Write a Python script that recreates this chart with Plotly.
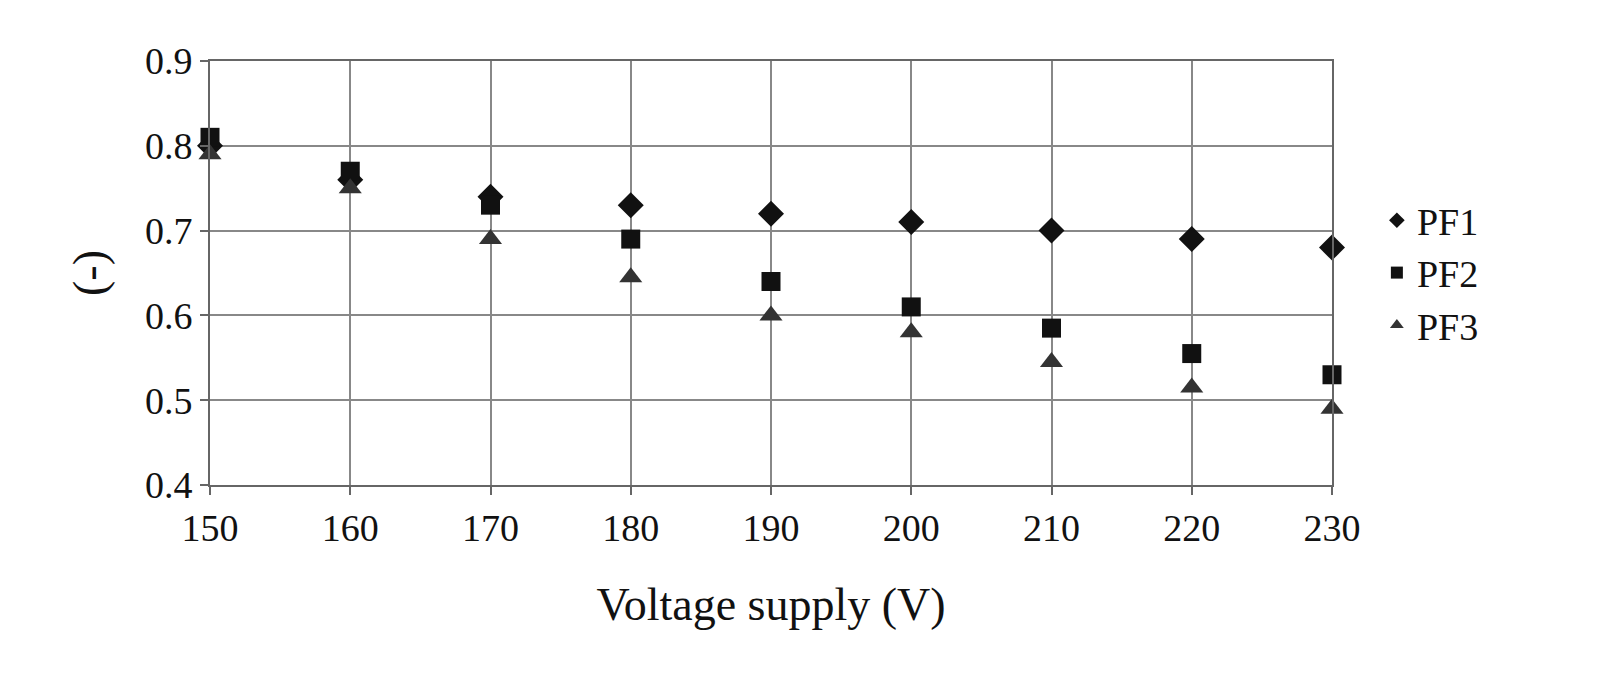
import plotly.graph_objects as go

voltage = [150, 160, 170, 180, 190, 200, 210, 220, 230]
pf1 = [0.80, 0.76, 0.74, 0.73, 0.72, 0.71, 0.70, 0.69, 0.68]
pf2 = [0.81, 0.77, 0.73, 0.69, 0.64, 0.61, 0.585, 0.555, 0.53]
pf3 = [0.79, 0.75, 0.69, 0.645, 0.60, 0.58, 0.545, 0.515, 0.49]

fig = go.Figure()
fig.add_trace(go.Scatter(x=voltage, y=pf1, mode='markers', name='PF1', cliponaxis=False,
                         marker=dict(symbol='diamond', size=20, color='#111')))
fig.add_trace(go.Scatter(x=voltage, y=pf2, mode='markers', name='PF2', cliponaxis=False,
                         marker=dict(symbol='square', size=19, color='#111')))
fig.add_trace(go.Scatter(x=voltage, y=pf3, mode='markers', name='PF3', cliponaxis=False,
                         marker=dict(symbol='triangle-up', size=20, color='#333')))

fig.update_layout(
    width=1612, height=697, plot_bgcolor='white', paper_bgcolor='white',
    margin=dict(l=202, r=288, t=53, b=220),
    font=dict(family='Liberation Serif', size=38, color='#111'),
    legend=dict(x=1.04, y=0.5, yanchor='middle', xanchor='left',
                font=dict(size=38), itemsizing='constant', tracegroupgap=22),
)
fig.update_xaxes(range=[150, 230], dtick=10, showgrid=True, gridcolor='#888', gridwidth=2,
                 showline=True, linecolor='#666', linewidth=2, mirror=True,
                 ticks='outside', ticklen=8, tickcolor='#666', tickwidth=2,
                 title=dict(text='Voltage supply (V)', standoff=40))
fig.update_yaxes(range=[0.4, 0.9], dtick=0.1, tickformat='.1f', showgrid=True,
                 gridcolor='#888', gridwidth=2, showline=True, linecolor='#666',
                 linewidth=2, mirror=True, ticks='outside', ticklen=8,
                 tickcolor='#666', tickwidth=2, title=dict(text='(-)', standoff=25))
fig.write_html("out.html")
